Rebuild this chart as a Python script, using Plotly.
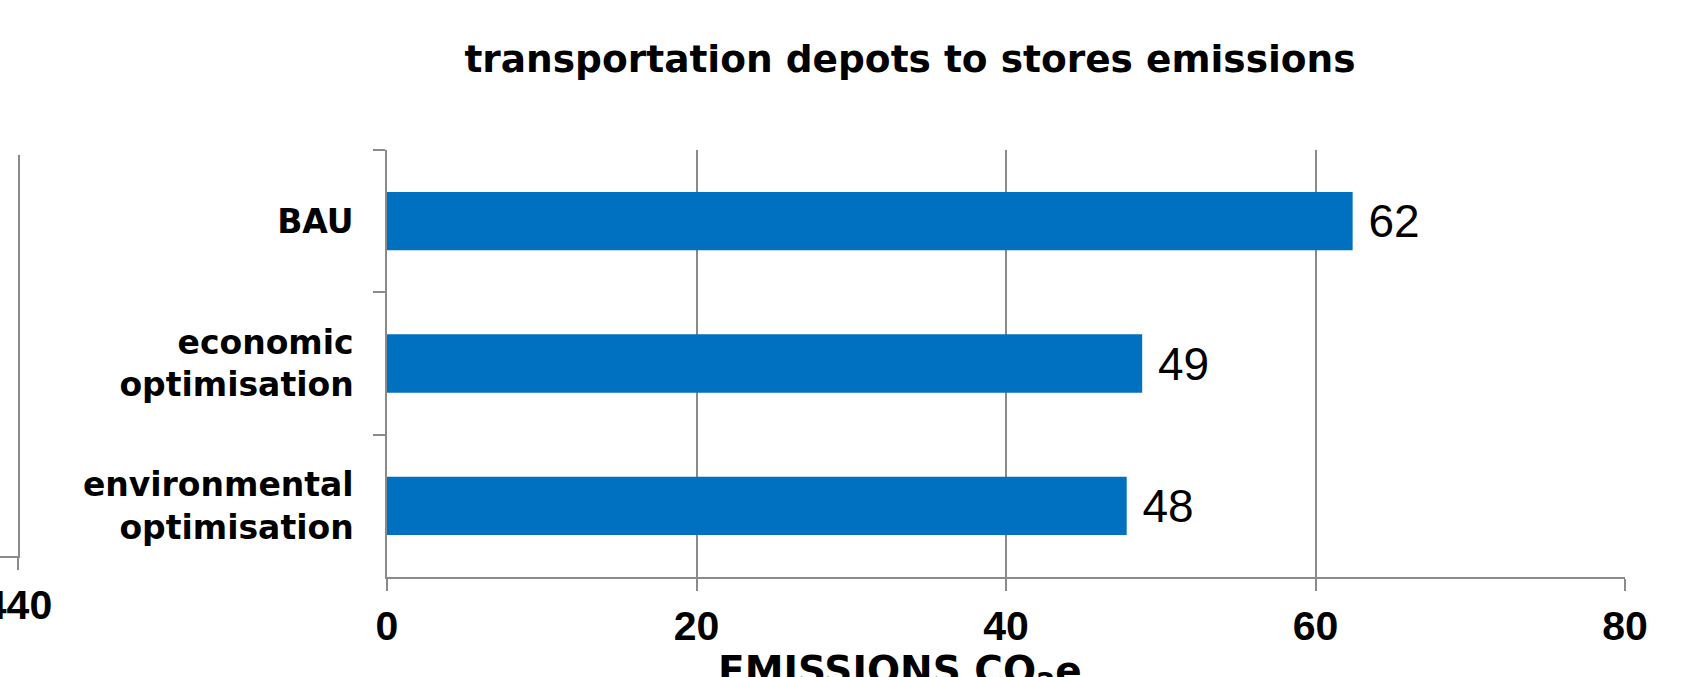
import plotly.graph_objects as go

# Emissions by scenario for transport from depots to stores
scenarios = ["BAU", "economic<br>optimisation", "environmental<br>optimisation"]
emissions = [62.4, 48.8, 47.8]
x_ticks = [0, 20, 40, 60, 80]
neighbour_tick = [440]

W, H = 1683, 677
M_R, M_T, M_B = 58, 150, 100
area_w = W - M_R          # paper width (left margin is zero)
plot_h = H - M_T - M_B
main_left = 387           # left edge of the main bar chart
x_axis_y = H - M_B        # pixel row of the main x axis

grid = "#8a8a8a"
bar_blue = "#0070C0"
bold_sans = dict(family="DejaVu Sans", color="black", weight="bold")
bold_arial = dict(family="Liberation Sans, Arial", color="black", weight="bold")

fig = go.Figure()

fig.add_trace(go.Bar(
    x=emissions,
    y=scenarios,
    orientation="h",
    marker=dict(color=bar_blue, line=dict(width=0)),
    texttemplate=" %{x:.0f}",
    textposition="outside",
    constraintext="none",
    cliponaxis=False,
    textfont=dict(family="Liberation Sans, Arial", size=46, color="black"),
    showlegend=False,
    hoverinfo="skip",
))

# Edge of the neighbouring chart on the left
fig.add_trace(go.Bar(x=[], y=[], xaxis="x2", yaxis="y2", showlegend=False))

fig.update_layout(
    width=W,
    height=H,
    margin=dict(l=0, r=M_R, t=M_T, b=M_B, autoexpand=False),
    paper_bgcolor="white",
    plot_bgcolor="rgba(0,0,0,0)",
    bargap=0.59,
    title=dict(
        text="transportation depots to stores emissions",
        font=dict(size=37.5, **bold_sans),
        xref="container", yref="container",
        x=910 / W, y=1 - 59 / H,
        xanchor="center", yanchor="middle",
    ),
    xaxis=dict(
        domain=[main_left / area_w, 1],
        range=[0, 80],
        tickvals=x_ticks,
        showgrid=True, gridcolor=grid, gridwidth=1.5,
        showline=True, linecolor=grid, linewidth=1.5,
        ticks="outside", ticklen=12, tickwidth=1.5, tickcolor=grid,
        tickfont=dict(size=41, **bold_arial),
        zeroline=False,
        automargin=False,
    ),
    yaxis=dict(
        type="category",
        autorange="reversed",
        tickson="boundaries",
        ticks="outside", ticklen=12, tickwidth=1.5, tickcolor=grid,
        showline=True, linecolor=grid, linewidth=1.5,
        showgrid=False,
        tickfont=dict(size=33, **bold_sans),
        ticklabelstandoff=25,
        automargin=False,
    ),
    xaxis2=dict(
        domain=[0, 18 / area_w],
        anchor="y2",
        range=[400, 440],
        tickvals=neighbour_tick,
        showgrid=True, gridcolor=grid, gridwidth=1.5,
        showline=True, linecolor=grid, linewidth=1.5,
        ticks="outside", ticklen=12, tickwidth=1.5, tickcolor=grid,
        tickfont=dict(size=41, **bold_arial),
        ticklabeloverflow="allow",
        zeroline=False,
        automargin=False,
    ),
    # right-hand edge of the neighbouring chart's plot area
    yaxis2=dict(
        domain=[(x_axis_y - 556) / plot_h, (x_axis_y - 155) / plot_h],
        anchor="x2",
        side="right",
        showline=True, linecolor=grid, linewidth=1.5,
        showticklabels=False, ticks="",
        showgrid=False, zeroline=False,
        automargin=False,
    ),
    annotations=[
        dict(
            text="EMISSIONS CO<sub>2</sub>e",
            xref="paper", yref="paper",
            x=900 / area_w, y=-(646 - x_axis_y) / plot_h,
            xanchor="center", yanchor="top",
            showarrow=False,
            font=dict(size=39, **bold_sans),
        )
    ],
)

fig.write_html("out.html")
